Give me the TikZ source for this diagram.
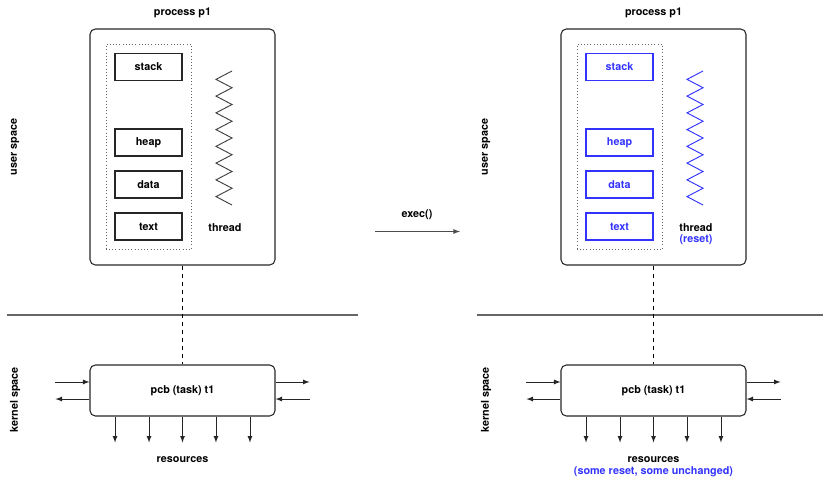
\documentclass[tikz,border=0pt]{standalone}
\usepackage{fontspec}
\setmainfont{TeX Gyre Heros}
\usetikzlibrary{arrows,positioning,fit}

\definecolor{resetblue}{RGB}{51,51,255}

\tikzstyle{process} = [rectangle, rounded corners=4pt,
                      minimum width=138.75pt, minimum height=177pt,
                      draw=black!85, line width=0.8pt]
\tikzstyle{pcbbox} = [rectangle, rounded corners=4pt,
                      minimum width=138.75pt, minimum height=38.25pt,
                      draw=black!85, line width=0.8pt]
\tikzstyle{segment} = [rectangle, minimum width=50.25pt, minimum height=20.25pt,
                      draw=black!85, line width=0.8pt]
\tikzstyle{renewed} = [draw=resetblue, text=resetblue]
\tikzstyle{memory} = [rectangle, draw=black!60, dotted, inner sep=6.5pt]
\tikzstyle{thread} = [draw=black!75, line width=0.7pt]
\tikzstyle{spacename} = [rotate=90]
\tikzstyle{flow} = [-latex, line width=0.7pt, draw=black!85]
\tikzstyle{divider} = [draw=black!60, line width=0.8pt]

\begin{document}
\begin{tikzpicture}[x=0.75pt, y=-0.75pt, node distance=31.5pt,
  every node/.style={font=\fontsize{8.1}{9.7}\selectfont\bfseries}]

  \useasboundingbox (0,0) rectangle (823,478);

  % before exec()
  \node (user-space) [spacename] at (15,147) {user space};
  \node (kernel-space) [spacename] at (15,400) {kernel space};

  \node (proc) [process] at (182.5,147) {};
  \node (proc-title) at (182.5,13) {process p1};

  \node (stack) [segment] at (148.5,67) {stack};
  \node (heap) [segment, below of=stack, yshift=-25.1pt] {heap};
  \node (data) [segment, below of=heap] {data};
  \node (text) [segment, below of=data] {text};
  \node (memory) [memory, fit=(stack) (text)] {};

  \coordinate (thread-top) at (232,71);
  \draw[thread] (thread-top)
    \foreach \i in {1,...,8} { -- (216,{71+16.75*\i-8.4}) -- (232,{71+16.75*\i}) };
  \node (thread) at (225,227.5) {thread};

  \coordinate (divider-start) at (7,315);
  \coordinate (divider-end) at (358,315);
  \draw[divider] (divider-start) -- (divider-end);

  \node (pcb) [pcbbox] at (182.5,390.5) {pcb (task) t1};
  \draw[dashed, line width=0.7pt] (proc) -- (pcb);

  \draw[flow] ([xshift=-25.5pt, yshift=6.4pt]pcb.west) -- ([yshift=6.4pt]pcb.west);
  \draw[flow] ([yshift=-6.4pt]pcb.west) -- ([xshift=-25.5pt, yshift=-6.4pt]pcb.west);
  \draw[flow] ([yshift=6.4pt]pcb.east) -- ([xshift=25.5pt, yshift=6.4pt]pcb.east);
  \draw[flow] ([xshift=25.5pt, yshift=-6.4pt]pcb.east) -- ([yshift=-6.4pt]pcb.east);

  \draw[flow] ([xshift=-50.6pt]pcb.south) -- ([xshift=-50.6pt, yshift=-19.5pt]pcb.south);
  \draw[flow] ([xshift=-25.1pt]pcb.south) -- ([xshift=-25.1pt, yshift=-19.5pt]pcb.south);
  \draw[flow] (pcb.south) -- ([yshift=-19.5pt]pcb.south);
  \draw[flow] ([xshift=25.1pt]pcb.south) -- ([xshift=25.1pt, yshift=-19.5pt]pcb.south);
  \draw[flow] ([xshift=50.6pt]pcb.south) -- ([xshift=50.6pt, yshift=-19.5pt]pcb.south);

  \node (resources) at (182.5,459.5) {resources};

  % exec()
  \node (exec) at (417,215) {exec()};
  \coordinate (exec-from) at (375,231.5);
  \coordinate (exec-to) at (460,231.5);
  \draw[flow, draw=black!70] (exec-from) -- (exec-to);

  % after exec()
  \node (user-space-new) [spacename] at (486,147) {user space};
  \node (kernel-space-new) [spacename] at (486,400) {kernel space};

  \node (proc-new) [process] at (653.5,147) {};
  \node (proc-title-new) at (653.5,13) {process p1};

  \node (stack-new) [segment, renewed] at (619.5,67) {stack};
  \node (heap-new) [segment, renewed, below of=stack-new, yshift=-25.1pt] {heap};
  \node (data-new) [segment, renewed, below of=heap-new] {data};
  \node (text-new) [segment, renewed, below of=data-new] {text};
  \node (memory-new) [memory, fit=(stack-new) (text-new)] {};

  \coordinate (thread-top-new) at (703,71);
  \draw[thread, draw=resetblue] (thread-top-new)
    \foreach \i in {1,...,8} { -- (687,{71+16.75*\i-8.4}) -- (703,{71+16.75*\i}) };
  \node (thread-new) at (696,227.5) {thread};
  \node (thread-reset) [text=resetblue] at (696,240) {(reset)};

  \coordinate (divider-start-new) at (477,315);
  \coordinate (divider-end-new) at (823,315);
  \draw[divider] (divider-start-new) -- (divider-end-new);

  \node (pcb-new) [pcbbox] at (653.5,390.5) {pcb (task) t1};
  \draw[dashed, line width=0.7pt] (proc-new) -- (pcb-new);

  \draw[flow] ([xshift=-25.5pt, yshift=6.4pt]pcb-new.west) -- ([yshift=6.4pt]pcb-new.west);
  \draw[flow] ([yshift=-6.4pt]pcb-new.west) -- ([xshift=-25.5pt, yshift=-6.4pt]pcb-new.west);
  \draw[flow] ([yshift=6.4pt]pcb-new.east) -- ([xshift=25.5pt, yshift=6.4pt]pcb-new.east);
  \draw[flow] ([xshift=25.5pt, yshift=-6.4pt]pcb-new.east) -- ([yshift=-6.4pt]pcb-new.east);

  \draw[flow] ([xshift=-50.6pt]pcb-new.south) -- ([xshift=-50.6pt, yshift=-19.5pt]pcb-new.south);
  \draw[flow] ([xshift=-25.1pt]pcb-new.south) -- ([xshift=-25.1pt, yshift=-19.5pt]pcb-new.south);
  \draw[flow] (pcb-new.south) -- ([yshift=-19.5pt]pcb-new.south);
  \draw[flow] ([xshift=25.1pt]pcb-new.south) -- ([xshift=25.1pt, yshift=-19.5pt]pcb-new.south);
  \draw[flow] ([xshift=50.6pt]pcb-new.south) -- ([xshift=50.6pt, yshift=-19.5pt]pcb-new.south);

  \node (resources-new) at (653.5,459.5) {resources};
  \node (resources-note) [text=resetblue] at (653.5,471.5) {(some reset, some unchanged)};

\end{tikzpicture}
\end{document}
